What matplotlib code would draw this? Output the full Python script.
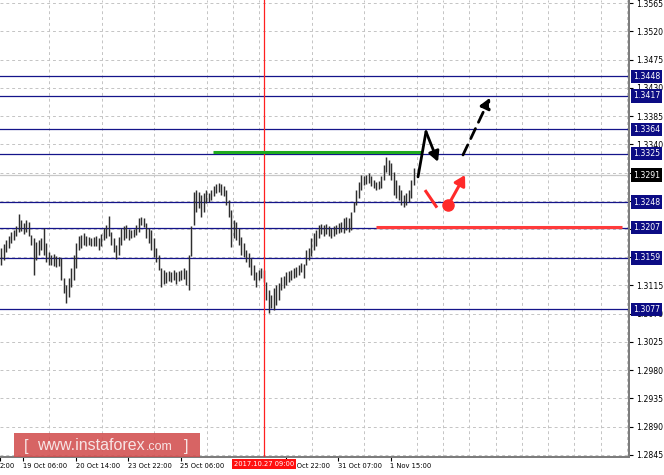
import matplotlib
matplotlib.use("Agg")
import matplotlib.pyplot as plt
from matplotlib.patches import Rectangle, FancyArrowPatch

# ---------------- data ----------------
highs = [1.3175, 1.3181, 1.3188, 1.3194, 1.3200, 1.3203, 1.3210, 1.3229, 1.3219, 1.3215,
         1.3219, 1.3216, 1.3195, 1.3191, 1.3184, 1.3188, 1.3191, 1.3207, 1.3183, 1.3168,
         1.3164, 1.3165, 1.3162, 1.3160, 1.3159, 1.3127, 1.3116, 1.3127, 1.3143, 1.3164,
         1.3183, 1.3194, 1.3195, 1.3199, 1.3194, 1.3192, 1.3191, 1.3192, 1.3194, 1.3191,
         1.3197, 1.3207, 1.3211, 1.3226, 1.3200, 1.3191, 1.3180, 1.3192, 1.3207, 1.3210,
         1.3211, 1.3205, 1.3203, 1.3205, 1.3211, 1.3223, 1.3224, 1.3223, 1.3215, 1.3207,
         1.3203, 1.3191, 1.3175, 1.3164, 1.3143, 1.3140, 1.3137, 1.3138, 1.3137, 1.3140,
         1.3137, 1.3138, 1.3140, 1.3143, 1.3140, 1.3164, 1.3210, 1.3264, 1.3267, 1.3264,
         1.3259, 1.3262, 1.3267, 1.3262, 1.3267, 1.3274, 1.3277, 1.3278, 1.3277, 1.3274,
         1.3267, 1.3251, 1.3235, 1.3219, 1.3216, 1.3207, 1.3192, 1.3183, 1.3172, 1.3167,
         1.3159, 1.3148, 1.3137, 1.3140, 1.3143, 1.3140, 1.3121, 1.3108, 1.3100, 1.3111,
         1.3116, 1.3119, 1.3129, 1.3130, 1.3137, 1.3138, 1.3140, 1.3143, 1.3144, 1.3148,
         1.3151, 1.3149, 1.3172, 1.3175, 1.3191, 1.3199, 1.3203, 1.3211, 1.3213, 1.3211,
         1.3213, 1.3210, 1.3207, 1.3210, 1.3211, 1.3215, 1.3216, 1.3223, 1.3224, 1.3223,
         1.3232, 1.3248, 1.3267, 1.3280, 1.3291, 1.3290, 1.3291, 1.3294, 1.3290, 1.3283,
         1.3280, 1.3282, 1.3290, 1.3307, 1.3320, 1.3315, 1.3310, 1.3296, 1.3283, 1.3275,
         1.3267, 1.3259, 1.3262, 1.3267, 1.3283, 1.3302]
lows = [1.3148, 1.3156, 1.3168, 1.3175, 1.3183, 1.3188, 1.3194, 1.3200, 1.3202, 1.3197,
        1.3200, 1.3194, 1.3180, 1.3132, 1.3156, 1.3164, 1.3172, 1.3164, 1.3152, 1.3148,
        1.3148, 1.3146, 1.3144, 1.3146, 1.3124, 1.3103, 1.3087, 1.3097, 1.3113, 1.3124,
        1.3143, 1.3172, 1.3175, 1.3180, 1.3178, 1.3180, 1.3178, 1.3178, 1.3178, 1.3172,
        1.3178, 1.3188, 1.3191, 1.3194, 1.3180, 1.3168, 1.3157, 1.3164, 1.3180, 1.3188,
        1.3191, 1.3188, 1.3191, 1.3192, 1.3195, 1.3200, 1.3211, 1.3208, 1.3191, 1.3183,
        1.3172, 1.3160, 1.3152, 1.3140, 1.3113, 1.3117, 1.3119, 1.3122, 1.3121, 1.3124,
        1.3117, 1.3122, 1.3124, 1.3125, 1.3116, 1.3108, 1.3162, 1.3211, 1.3232, 1.3238,
        1.3224, 1.3232, 1.3246, 1.3248, 1.3251, 1.3258, 1.3262, 1.3264, 1.3259, 1.3258,
        1.3243, 1.3224, 1.3176, 1.3191, 1.3188, 1.3180, 1.3164, 1.3160, 1.3152, 1.3144,
        1.3132, 1.3124, 1.3113, 1.3124, 1.3127, 1.3121, 1.3092, 1.3071, 1.3079, 1.3076,
        1.3084, 1.3092, 1.3108, 1.3111, 1.3116, 1.3121, 1.3124, 1.3127, 1.3129, 1.3132,
        1.3137, 1.3127, 1.3148, 1.3156, 1.3162, 1.3172, 1.3178, 1.3191, 1.3197, 1.3194,
        1.3197, 1.3194, 1.3191, 1.3194, 1.3197, 1.3199, 1.3200, 1.3199, 1.3203, 1.3200,
        1.3203, 1.3232, 1.3243, 1.3254, 1.3267, 1.3275, 1.3277, 1.3278, 1.3274, 1.3270,
        1.3267, 1.3269, 1.3270, 1.3283, 1.3296, 1.3291, 1.3283, 1.3259, 1.3254, 1.3251,
        1.3243, 1.3240, 1.3243, 1.3248, 1.3254, 1.3275]

levels = [1.3448, 1.3417, 1.3364, 1.3325, 1.3248, 1.3207, 1.3159, 1.3077]
current_price = 1.3291

y_ticks = [1.2845, 1.2890, 1.2935, 1.2980, 1.3025, 1.3070, 1.3115, 1.3160, 1.3205,
           1.3250, 1.3295, 1.3340, 1.3385, 1.3430, 1.3475, 1.3520, 1.3565]
y_tick_labels = ['1.2845', '1.2890', '1.2935', '1.2980', '1.3025', '1.3070', '1.3115', '', '',
                 '', '', '1.3340', '1.3385', '1.3430', '1.3475', '1.3520', '1.3565']

x_ticks = [-0.4, 8.8, 29.8, 50.8, 71.8, 113.8, 134.8, 155.8]
x_tick_labels = ['2:00', '19 Oct 06:00', '20 Oct 14:00', '23 Oct 22:00', '25 Oct 06:00',
                 '30 Oct 22:00', '31 Oct 07:00', '1 Nov 15:00']
x_grid = [8.8, 19.3, 29.8, 40.3, 50.8, 61.3, 71.8, 82.3, 92.8, 103.3, 113.8, 124.3, 134.8,
          145.3, 155.8, 166.3, 176.8, 187.3, 197.8, 208.3, 218.8, 229.3, 239.8, 250.3]

marker_x = 105.2
marker_label = '2017.10.27 09:00'

green_level = [84.8, 168.4, 1.3328]
red_level = [150.0, 248.4, 1.3208]
black_path_x = [166.8, 170.0, 174.8]
black_path_y = [1.3288, 1.3360, 1.3312]
black_dash_x = [184.8, 195.6]
black_dash_y = [1.3323, 1.3414]
red_seg_x = [169.6, 174.4]
red_seg_y = [1.3267, 1.3239]
red_dot = [178.8, 1.3243]
red_arrow_x = [179.6, 185.6]
red_arrow_y = [1.3248, 1.3291]

# ---------------- figure ----------------
fig = plt.figure(figsize=(6.64, 4.75), dpi=100)
fig.patch.set_facecolor('white')
ax = fig.add_axes([0.0, 18 / 475, 629 / 664, 457 / 475])
ax.set_facecolor('white')

ax.set_xlim(-0.4, 251.2)
ax.set_ylim(1.28418, 1.35698)

# grid
ax.set_yticks(y_ticks)
ax.set_yticklabels(y_tick_labels)
ax.set_xticks(x_grid, minor=True)
ax.set_xticks(x_ticks)
ax.set_xticklabels(x_tick_labels)
for lab in ax.get_xticklabels():
    lab.set_ha('left')
ax.grid(True, axis='y', which='major', color='#c4c4c4', linestyle=(0, (3, 3)), lw=0.7)
ax.grid(True, axis='x', which='minor', color='#c4c4c4', linestyle=(0, (3, 3)), lw=0.7)
ax.set_axisbelow(True)

ax.yaxis.tick_right()
ax.tick_params(axis='y', which='major', length=3, width=0.8, pad=2, labelsize=5.6,
               colors='black', labelfontfamily='DejaVu Sans')
ax.tick_params(axis='x', which='major', length=3, width=0.8, pad=1.5, labelsize=4.9,
               colors='black', labelfontfamily='DejaVu Sans')
ax.tick_params(axis='x', which='minor', length=0)
for s in ['left', 'top']:
    ax.spines[s].set_visible(False)
for s in ['right', 'bottom']:
    ax.spines[s].set_color('#7a7a7a')
    ax.spines[s].set_linewidth(1.4)

# level lines
ax.axhline(current_price, color='#c8c8c8', lw=0.9, zorder=1)
for lv in levels:
    ax.axhline(lv, color='#14148a', lw=0.9, zorder=2)

# price bars
xs = list(range(len(highs)))
ax.vlines(xs, lows, highs, color='#2e2e2e', lw=1.05, zorder=3)

# red vertical marker
ax.axvline(marker_x, color='#ff2020', lw=0.9, zorder=4)

# green & red horizontal forecast lines
ax.plot(green_level[:2], [green_level[2]] * 2, color='#1faa1f', lw=2.2, zorder=5,
        solid_capstyle='butt')
ax.plot(red_level[:2], [red_level[2]] * 2, color='#ff3b3b', lw=2.2, zorder=5,
        solid_capstyle='butt')

# black solid path with arrow
ax.plot(black_path_x[:2], black_path_y[:2], color='black', lw=2.0, zorder=6,
        solid_capstyle='round')
ax.add_patch(FancyArrowPatch((black_path_x[1], black_path_y[1]),
                             (black_path_x[2], black_path_y[2]),
                             arrowstyle='-|>,head_length=6,head_width=3.2',
                             color='black', lw=2.0, zorder=6, shrinkA=0, shrinkB=0))
# black dashed arrow
ax.add_patch(FancyArrowPatch((black_dash_x[0], black_dash_y[0]),
                             (black_dash_x[1], black_dash_y[1]),
                             arrowstyle='-|>,head_length=6,head_width=3.2',
                             color='black', lw=2.0, linestyle=(0, (4, 2.5)),
                             zorder=6, shrinkA=0, shrinkB=0))
# red segment, dot and arrow
ax.plot(red_seg_x, red_seg_y, color='#ff2a2a', lw=2.2, zorder=6, solid_capstyle='butt')
ax.plot([red_dot[0]], [red_dot[1]], 'o', color='#ff2a2a', ms=8, zorder=7)
ax.add_patch(FancyArrowPatch((red_arrow_x[0], red_arrow_y[0]),
                             (red_arrow_x[1], red_arrow_y[1]),
                             arrowstyle='-|>,head_length=6,head_width=3.5',
                             color='#ff2a2a', lw=2.2, zorder=7, shrinkA=0, shrinkB=0))

# right-side level labels
ytr = ax.get_yaxis_transform()
for lv in levels:
    ax.text(1.006, lv, f'{lv:.4f}', transform=ytr, ha='left', va='center',
            fontsize=5.6, color='white', family='DejaVu Sans', zorder=20, clip_on=False,
            bbox=dict(boxstyle='square,pad=0.28', fc='#0c0c84', ec='none'))
ax.text(1.006, current_price, f'{current_price:.4f}', transform=ytr, ha='left',
        va='center', fontsize=5.6, color='white', family='DejaVu Sans', zorder=20,
        clip_on=False, bbox=dict(boxstyle='square,pad=0.28', fc='black', ec='none'))

# bottom red date label
xtr = ax.get_xaxis_transform()
ax.text(marker_x, -0.008, marker_label, transform=xtr, ha='center', va='top',
        fontsize=4.9, color='white', family='DejaVu Sans', zorder=20, clip_on=False,
        bbox=dict(boxstyle='square,pad=0.3', fc='#ff1010', ec='none'))

# watermark
fig.patches.append(Rectangle((14 / 664, 1 - 457 / 475), 186 / 664, 24 / 475,
                             transform=fig.transFigure, fc='#d24f4f', ec='none',
                             alpha=0.88, zorder=30))
fig.text(24 / 664, 1 - 446 / 475, '[', fontsize=12, color='#f7e4e4', va='center',
         ha='left', family='Liberation Sans', zorder=31)
fig.text(37 / 664, 1 - 446 / 475, 'www.instaforex', fontsize=11.5, color='#f7e4e4',
         va='center', ha='left', family='Liberation Sans', zorder=31)
fig.text(146 / 664, 1 - 447 / 475, '.com', fontsize=9, color='#f7e4e4',
         va='center', ha='left', family='Liberation Sans', zorder=31)
fig.text(184 / 664, 1 - 446 / 475, ']', fontsize=12, color='#f7e4e4', va='center',
         ha='left', family='Liberation Sans', zorder=31)

fig.savefig('out.png', dpi=100, facecolor='white')
